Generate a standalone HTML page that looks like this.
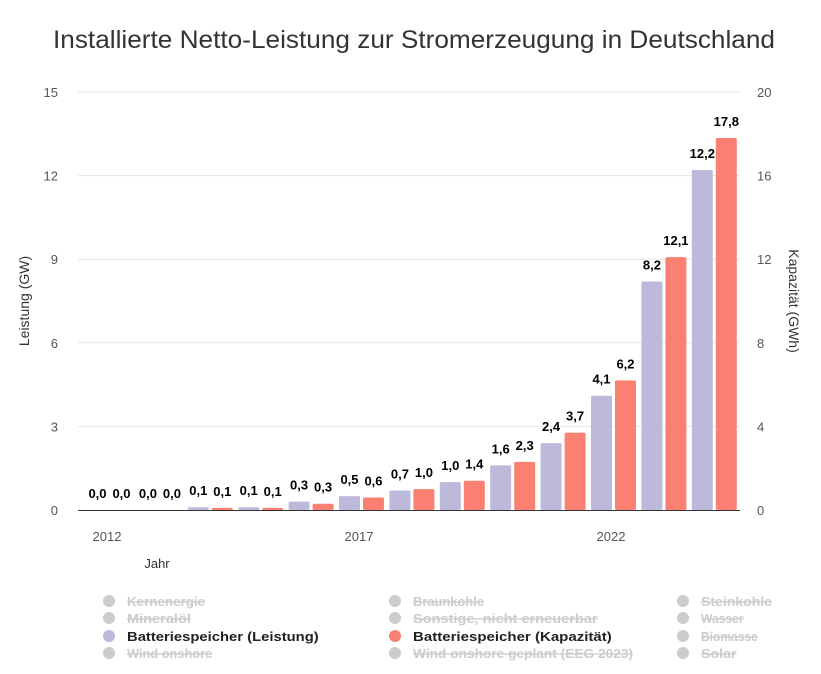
<!DOCTYPE html>
<html><head><meta charset="utf-8">
<style>
body{margin:0;background:#fff;width:821px;height:674px;overflow:hidden;font-family:"Liberation Sans",sans-serif}
svg{display:block}
</style></head>
<body>
<svg id="c" width="821" height="674">
<text x="414" y="48" text-anchor="middle" font-size="25" fill="#333" textLength="722" lengthAdjust="spacingAndGlyphs">Installierte Netto-Leistung zur Stromerzeugung in Deutschland</text>
<text transform="translate(29,301) rotate(-90)" text-anchor="middle" font-size="14" fill="#333">Leistung (GW)</text>
<text transform="translate(789,301) rotate(90)" text-anchor="middle" font-size="14" fill="#333">Kapazität (GWh)</text>
<text x="157" y="568" text-anchor="middle" font-size="13" fill="#333">Jahr</text>
<g id="grid"></g><g id="bars"></g><g id="labels"></g><g id="legend"></g>
</svg>
<script>
const years=[2012,2013,2014,2015,2016,2017,2018,2019,2020,2021,2022,2023,2024];
const leistung=[0.0,0.0,0.1,0.1,0.3,0.5,0.7,1.0,1.6,2.4,4.1,8.2,12.2];
const kapazitaet=[0.0,0.0,0.1,0.1,0.3,0.6,1.0,1.4,2.3,3.7,6.2,12.1,17.8];
const leftTicks=[0,3,6,9,12,15];
const rightTicks=[0,4,8,12,16,20];
const xTickYears=[2012,2017,2022];
const NS='http://www.w3.org/2000/svg';
const y0=510,yTop=92,left=78,right=740;
function yL(v){return y0-(v/15)*(y0-yTop);}
function yR(v){return y0-(v/20)*(y0-yTop);}
function xC(i){return 107+i*50.4;}
function mk(tag,attrs,parent,txt){const e=document.createElementNS(NS,tag);for(const k in attrs)e.setAttribute(k,attrs[k]);if(txt!==undefined)e.textContent=txt;parent.appendChild(e);return e;}
const grid=document.getElementById('grid'),bars=document.getElementById('bars'),labels=document.getElementById('labels'),legend=document.getElementById('legend');
leftTicks.forEach((t,i)=>{
  const y=yL(t);
  if(t>0){const l=mk('line',{x1:left,x2:right,y1:y,y2:y,stroke:'#e6e6e6','stroke-width':1},grid);
  
  }
  const tx=mk('text',{x:58,y:y+5,'text-anchor':'end','font-size':13,fill:'#555'},grid,String(t));
  
  
});
rightTicks.forEach(t=>{
  const tx=mk('text',{x:757,y:yR(t)+5,'text-anchor':'start','font-size':13,fill:'#555'},grid,String(t));
  
  
});
xTickYears.forEach(yr=>{
  const i=years.indexOf(yr);
  const tx=mk('text',{x:xC(i),y:541,'text-anchor':'middle','font-size':13,fill:'#555'},grid,String(yr));
  
  
});
const fmt=v=>v.toFixed(1).replace('.',',');
years.forEach((yr,i)=>{
  const c=xC(i);
  const h1=y0-yL(leistung[i]),h2=y0-yR(kapazitaet[i]);
  const b1=mk('rect',{x:c-20,y:yL(leistung[i]),width:21,height:h1,fill:'#bdb9da',rx:1.5},bars);
  
  
  const b2=mk('rect',{x:c+4,y:yR(kapazitaet[i]),width:21,height:h2,fill:'#fa8072',rx:1.5},bars);
  
  
  const l1=mk('text',{x:c-9.5,y:yL(leistung[i])-12,'text-anchor':'middle','font-size':13,'font-weight':'bold',fill:'#000',stroke:'#fff','stroke-width':2.5,'paint-order':'stroke'},labels,fmt(leistung[i]));
  
  
  const l2=mk('text',{x:c+14.5,y:yR(kapazitaet[i])-12,'text-anchor':'middle','font-size':13,'font-weight':'bold',fill:'#000',stroke:'#fff','stroke-width':2.5,'paint-order':'stroke'},labels,fmt(kapazitaet[i]));
  
  
});
const ax=mk('line',{x1:left,x2:right,y1:y0+0.5,y2:y0+0.5,stroke:'#333','stroke-width':1},grid);


const legendItems=[
 ['Kernenergie',0,0,false,'#ccc'],['Braunkohle',1,0,false,'#ccc'],['Steinkohle',2,0,false,'#ccc'],
 ['Mineralöl',0,1,false,'#ccc'],['Sonstige, nicht erneuerbar',1,1,false,'#ccc'],['Wasser',2,1,false,'#ccc'],
 ['Batteriespeicher (Leistung)',0,2,true,'#bdb9da'],['Batteriespeicher (Kapazität)',1,2,true,'#fa8072'],['Biomasse',2,2,false,'#ccc'],
 ['Wind onshore',0,3,false,'#ccc'],['Wind onshore geplant (EEG 2023)',1,3,false,'#ccc'],['Solar',2,3,false,'#ccc']];
const colX=[109,395,683],rowY=[601,618,636,653];
legendItems.forEach(it=>{
  const g=mk('g',{},legend);
  
  
  mk('circle',{cx:colX[it[1]],cy:rowY[it[2]],r:6,fill:it[4]},g);
  mk('text',{x:colX[it[1]]+18,y:rowY[it[2]]+5,'font-size':13,'font-weight':'bold',fill:it[3]?'#222':'#ccc','text-decoration':it[3]?'none':'line-through','textLength':it[0].length*7.1,'lengthAdjust':'spacingAndGlyphs'},g,it[0]);
});
</script>
</body></html>
